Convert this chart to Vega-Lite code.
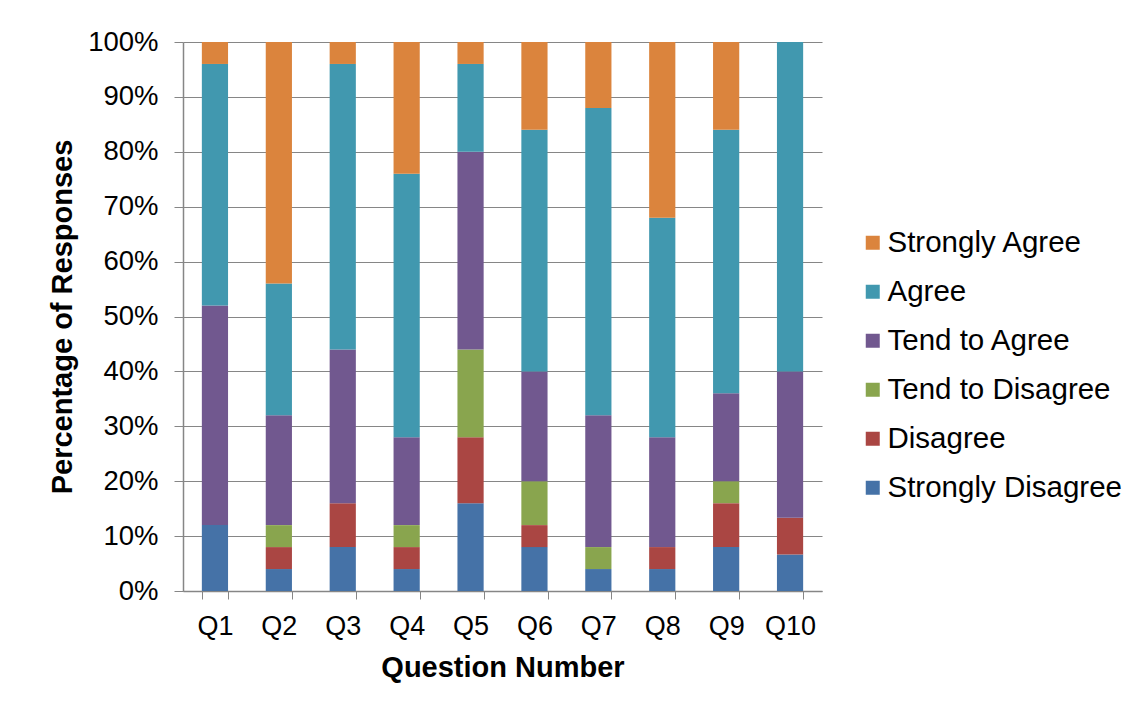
{
  "$schema": "https://vega.github.io/schema/vega-lite/v6.json",
  "autosize": {"type": "none"},
  "padding": {"left": 183, "top": 42, "right": 317, "bottom": 117},
  "width": 639,
  "height": 549,
  "background": "#ffffff",
  "config": {
    "font": "Liberation Sans",
    "view": {"stroke": null}
  },
  "data": {
    "values": [
      {"Question": "Q1", "Response": "Strongly Disagree", "Percent": 12},
      {"Question": "Q1", "Response": "Disagree", "Percent": 0},
      {"Question": "Q1", "Response": "Tend to Disagree", "Percent": 0},
      {"Question": "Q1", "Response": "Tend to Agree", "Percent": 40},
      {"Question": "Q1", "Response": "Agree", "Percent": 44},
      {"Question": "Q1", "Response": "Strongly Agree", "Percent": 4},
      {"Question": "Q2", "Response": "Strongly Disagree", "Percent": 4},
      {"Question": "Q2", "Response": "Disagree", "Percent": 4},
      {"Question": "Q2", "Response": "Tend to Disagree", "Percent": 4},
      {"Question": "Q2", "Response": "Tend to Agree", "Percent": 20},
      {"Question": "Q2", "Response": "Agree", "Percent": 24},
      {"Question": "Q2", "Response": "Strongly Agree", "Percent": 44},
      {"Question": "Q3", "Response": "Strongly Disagree", "Percent": 8},
      {"Question": "Q3", "Response": "Disagree", "Percent": 8},
      {"Question": "Q3", "Response": "Tend to Disagree", "Percent": 0},
      {"Question": "Q3", "Response": "Tend to Agree", "Percent": 28},
      {"Question": "Q3", "Response": "Agree", "Percent": 52},
      {"Question": "Q3", "Response": "Strongly Agree", "Percent": 4},
      {"Question": "Q4", "Response": "Strongly Disagree", "Percent": 4},
      {"Question": "Q4", "Response": "Disagree", "Percent": 4},
      {"Question": "Q4", "Response": "Tend to Disagree", "Percent": 4},
      {"Question": "Q4", "Response": "Tend to Agree", "Percent": 16},
      {"Question": "Q4", "Response": "Agree", "Percent": 48},
      {"Question": "Q4", "Response": "Strongly Agree", "Percent": 24},
      {"Question": "Q5", "Response": "Strongly Disagree", "Percent": 16},
      {"Question": "Q5", "Response": "Disagree", "Percent": 12},
      {"Question": "Q5", "Response": "Tend to Disagree", "Percent": 16},
      {"Question": "Q5", "Response": "Tend to Agree", "Percent": 36},
      {"Question": "Q5", "Response": "Agree", "Percent": 16},
      {"Question": "Q5", "Response": "Strongly Agree", "Percent": 4},
      {"Question": "Q6", "Response": "Strongly Disagree", "Percent": 8},
      {"Question": "Q6", "Response": "Disagree", "Percent": 4},
      {"Question": "Q6", "Response": "Tend to Disagree", "Percent": 8},
      {"Question": "Q6", "Response": "Tend to Agree", "Percent": 20},
      {"Question": "Q6", "Response": "Agree", "Percent": 44},
      {"Question": "Q6", "Response": "Strongly Agree", "Percent": 16},
      {"Question": "Q7", "Response": "Strongly Disagree", "Percent": 4},
      {"Question": "Q7", "Response": "Disagree", "Percent": 0},
      {"Question": "Q7", "Response": "Tend to Disagree", "Percent": 4},
      {"Question": "Q7", "Response": "Tend to Agree", "Percent": 24},
      {"Question": "Q7", "Response": "Agree", "Percent": 56},
      {"Question": "Q7", "Response": "Strongly Agree", "Percent": 12},
      {"Question": "Q8", "Response": "Strongly Disagree", "Percent": 4},
      {"Question": "Q8", "Response": "Disagree", "Percent": 4},
      {"Question": "Q8", "Response": "Tend to Disagree", "Percent": 0},
      {"Question": "Q8", "Response": "Tend to Agree", "Percent": 20},
      {"Question": "Q8", "Response": "Agree", "Percent": 40},
      {"Question": "Q8", "Response": "Strongly Agree", "Percent": 32},
      {"Question": "Q9", "Response": "Strongly Disagree", "Percent": 8},
      {"Question": "Q9", "Response": "Disagree", "Percent": 8},
      {"Question": "Q9", "Response": "Tend to Disagree", "Percent": 4},
      {"Question": "Q9", "Response": "Tend to Agree", "Percent": 16},
      {"Question": "Q9", "Response": "Agree", "Percent": 48},
      {"Question": "Q9", "Response": "Strongly Agree", "Percent": 16},
      {"Question": "Q10", "Response": "Strongly Disagree", "Percent": 6.67},
      {"Question": "Q10", "Response": "Disagree", "Percent": 6.67},
      {"Question": "Q10", "Response": "Tend to Disagree", "Percent": 0},
      {"Question": "Q10", "Response": "Tend to Agree", "Percent": 26.66},
      {"Question": "Q10", "Response": "Agree", "Percent": 60},
      {"Question": "Q10", "Response": "Strongly Agree", "Percent": 0}
    ]
  },
  "transform": [
    {"calculate": "indexof(['Strongly Disagree','Disagree','Tend to Disagree','Tend to Agree','Agree','Strongly Agree'], datum.Response)", "as": "rank"}
  ],
  "mark": {"type": "bar"},
  "encoding": {
    "x": {
      "field": "Question",
      "type": "nominal",
      "sort": null,
      "scale": {"paddingInner": 0.59, "paddingOuter": 0.295},
      "axis": {
        "title": "Question Number",
        "titleFont": "Liberation Sans",
        "titleFontSize": 29,
        "titleFontWeight": "bold",
        "titleColor": "#000000",
        "titlePadding": 14,
        "labelFont": "Liberation Sans",
        "labelFontSize": 27,
        "labelColor": "#000000",
        "labelAngle": 0,
        "labelPadding": 14,
        "tickBand": "extent",
        "tickSize": 8,
        "tickColor": "#868686",
        "domainColor": "#868686",
        "domainWidth": 1.5,
        "grid": false
      }
    },
    "y": {
      "field": "Percent",
      "type": "quantitative",
      "stack": "zero",
      "scale": {"domain": [0, 100], "nice": false},
      "axis": {
        "title": "Percentage of Responses",
        "titleFont": "Liberation Sans",
        "titleFontSize": 29,
        "titleFontWeight": "bold",
        "titleColor": "#000000",
        "titlePadding": 10,
        "values": [0, 10, 20, 30, 40, 50, 60, 70, 80, 90, 100],
        "labelExpr": "datum.value + '%'",
        "labelFont": "Liberation Sans",
        "labelFontSize": 27.5,
        "labelColor": "#000000",
        "labelPadding": 16,
        "tickSize": 9,
        "tickColor": "#868686",
        "domainColor": "#868686",
        "domainWidth": 1.5,
        "grid": true,
        "gridColor": "#868686",
        "gridWidth": 1.2
      }
    },
    "color": {
      "field": "Response",
      "type": "nominal",
      "scale": {
        "domain": ["Strongly Agree", "Agree", "Tend to Agree", "Tend to Disagree", "Disagree", "Strongly Disagree"],
        "range": ["#DB843D", "#4198AF", "#71588F", "#89A54E", "#AA4643", "#4572A7"]
      },
      "legend": {
        "title": null,
        "orient": "none",
        "legendX": 675,
        "legendY": 186,
        "padding": 0,
        "symbolType": "square",
        "symbolSize": 196,
        "symbolStrokeWidth": 0,
        "labelFont": "Liberation Sans",
        "labelFontSize": 29.5,
        "labelColor": "#000000",
        "labelOffset": 0,
        "rowPadding": 18,
        "labelLimit": 400
      }
    },
    "order": {"field": "rank", "type": "quantitative", "sort": "ascending"}
  }
}
